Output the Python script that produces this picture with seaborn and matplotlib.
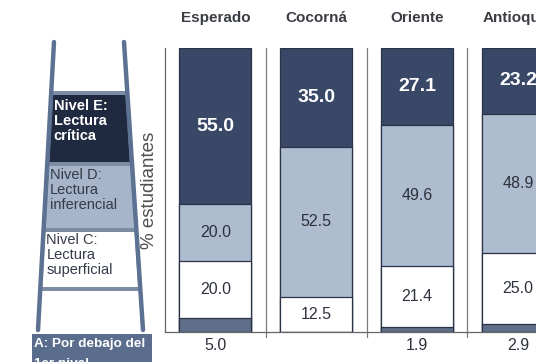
import pandas as pd
import numpy as np
import matplotlib
matplotlib.use("Agg")
import matplotlib.pyplot as plt
import seaborn as sns
from matplotlib.patches import Polygon, Rectangle
from matplotlib.lines import Line2D

# data (% of students per reading level)
regions = ["Esperado", "Cocorná", "Oriente", "Antioquia"]
nivel_a = [5.0, 0.0, 1.9, 2.9]
nivel_c = [20.0, 12.5, 21.4, 25.0]
nivel_d = [20.0, 52.5, 49.6, 48.9]
nivel_e = [55.0, 35.0, 27.1, 23.2]
level_labels = ["Nivel E:\nLectura\ncrítica",
                "Nivel D:\nLectura\ninferencial",
                "Nivel C:\nLectura\nsuperficial",
                "A: Por debajo del\n1er nivel"]
y_label = "% estudiantes"

C_E = "#3a4868"
C_D = "#aebcd0"
C_C = "#ffffff"
C_A = "#5f6e89"
EDGE = "#2a3348"
RAIL = "#5d7192"

sns.set_style("white")
plt.rcParams["font.family"] = ["Liberation Sans", "DejaVu Sans"]

df = pd.DataFrame({"region": regions, "A": nivel_a, "C": nivel_c,
                   "D": nivel_d, "E": nivel_e})
df["top_A"] = df["A"]
df["top_C"] = df["top_A"] + df["C"]
df["top_D"] = df["top_C"] + df["D"]
df["top_E"] = df["top_D"] + df["E"]

W, H = 536, 362
fig = plt.figure(figsize=(W / 100, H / 100), dpi=100)
fig.patch.set_facecolor("white")


def fx(x):
    return x / W


def fy(y):
    return 1 - y / H


ax = fig.add_axes([fx(165), fy(332), fx(W) - fx(165), fy(48) - fy(332)])

# stacked bars: draw cumulative totals from top down
for col, colr in [("top_E", C_E), ("top_D", C_D), ("top_C", C_C), ("top_A", C_A)]:
    sns.barplot(data=df, x="region", y=col, order=regions, color=colr,
                saturation=1, width=0.715, edgecolor=EDGE, linewidth=0.9,
                ax=ax, errorbar=None)

ax.set_xlim(-0.5, 3.18)
ax.set_ylim(0, 100)
ax.set_xlabel("")
ax.set_ylabel("")
ax.tick_params(length=0, labelbottom=False, labelleft=False)
for s in ["top", "right"]:
    ax.spines[s].set_visible(False)
for s in ["left", "bottom"]:
    ax.spines[s].set_color("#666666")
    ax.spines[s].set_linewidth(0.9)

# separators between groups
for xs in [0.5, 1.5, 2.5]:
    ax.plot([xs, xs], [-1.8, 100], color="#7a7a7a", lw=0.9, clip_on=False)

# labels
for i, r in df.iterrows():
    ax.text(i, 110.5, r["region"], ha="center", va="center", fontsize=11,
            fontweight="bold", color="#3a3d44", clip_on=False)
    ax.text(i, r["top_D"] + r["E"] / 2, f"{r['E']:.1f}", ha="center",
            va="center", fontsize=14, fontweight="bold", color="white")
    ax.text(i, r["top_C"] + r["D"] / 2, f"{r['D']:.1f}", ha="center",
            va="center", fontsize=11.5, color="#2c313c")
    ax.text(i, r["top_A"] + r["C"] / 2, f"{r['C']:.1f}", ha="center",
            va="center", fontsize=11.5, color="#2c313c")
    if r["A"] > 0:
        ax.text(i, -4.7, f"{r['A']:.1f}", ha="center", va="center",
                fontsize=11.5, color="#2c313c", clip_on=False)

fig.text(fx(150), fy(190), y_label, rotation=90, ha="center", va="center",
         fontsize=13.5, color="#505050")


# ladder legend on the left
def xl(y):
    return 54 + (38 - 54) * (y - 42) / 288


def xr(y):
    return 124 + (143 - 124) * (y - 42) / 288


def trap(y0, y1, inset, color):
    pts = [(fx(xl(y0) + inset), fy(y0)), (fx(xr(y0) - inset), fy(y0)),
           (fx(xr(y1) - inset), fy(y1)), (fx(xl(y1) + inset), fy(y1))]
    fig.add_artist(Polygon(pts, closed=True, facecolor=color,
                           edgecolor="none", transform=fig.transFigure))


trap(91, 291, -1, "#7d8ca5")
trap(95, 162, 2, "#1f2940")
trap(166, 228, 2, "#a6b5c9")
trap(232, 287, 2, "#ffffff")
for (x0, y0, x1, y1) in [(xl(42), 42, xl(330), 330), (xr(42), 42, xr(330), 330)]:
    fig.add_artist(Line2D([fx(x0), fx(x1)], [fy(y0), fy(y1)], color=RAIL,
                          lw=3.2, transform=fig.transFigure))

box_text = [(level_labels[0], 99, "white", "bold"),
            (level_labels[1], 168, "#333a48", "normal"),
            (level_labels[2], 233, "#333a48", "normal")]
for txt, ytop, colr, wt in box_text:
    fig.text(fx(xl(ytop) + 3), fy(ytop), txt, ha="left", va="top",
             fontsize=10.5, color=colr, fontweight=wt, linespacing=1.08)

fig.add_artist(Rectangle((fx(32), fy(370)), fx(152) - fx(32), fy(334) - fy(370),
                         facecolor="#5a6d8c", edgecolor="none",
                         transform=fig.transFigure))
a_lines = level_labels[3].split("\n")
fig.text(fx(34), fy(344), a_lines[0], ha="left", va="center", fontsize=9.7,
         color="white", fontweight="bold")
fig.text(fx(34), fy(364), a_lines[1], ha="left", va="center", fontsize=9.7,
         color="white", fontweight="bold")

fig.savefig("out.png", dpi=100, facecolor="white")
